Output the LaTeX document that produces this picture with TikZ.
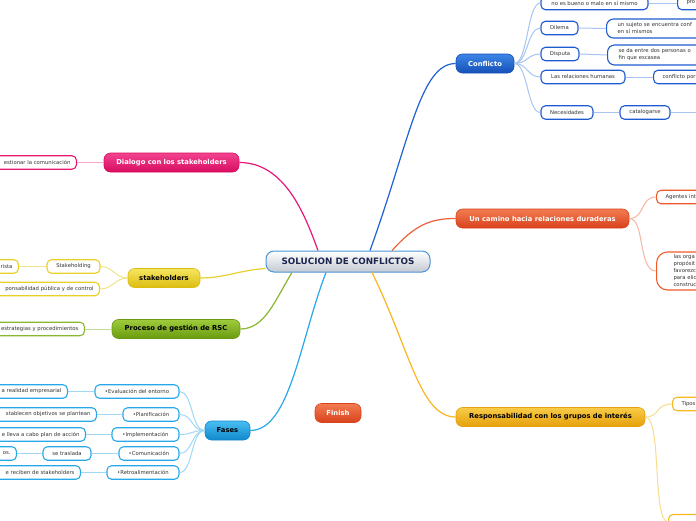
\documentclass[tikz,border=0pt]{standalone}
\usepackage{fontspec}
\setmainfont{DejaVu Sans}
\usetikzlibrary{calc}
\definecolor{blueA}{HTML}{3C86E6}\definecolor{blueB}{HTML}{1550B8}\definecolor{blueSub}{HTML}{1E5BD0}\definecolor{blueConn}{HTML}{A8C4F0}\definecolor{blueMain}{HTML}{1E62D4}
\definecolor{orA}{HTML}{F27C52}\definecolor{orB}{HTML}{D8421C}\definecolor{orSub}{HTML}{F05A28}\definecolor{orConn}{HTML}{F8B4A0}\definecolor{orMain}{HTML}{F06038}
\definecolor{yoA}{HTML}{F8CC48}\definecolor{yoB}{HTML}{E6A00A}\definecolor{yoSub}{HTML}{F8B820}\definecolor{yoConn}{HTML}{F8DC90}\definecolor{yoMain}{HTML}{F8B820}
\definecolor{cyA}{HTML}{48BEF2}\definecolor{cyB}{HTML}{1088CC}\definecolor{cySub}{HTML}{28A8E8}\definecolor{cyConn}{HTML}{A0D8F4}\definecolor{cyMain}{HTML}{28A8E8}
\definecolor{pkA}{HTML}{F24490}\definecolor{pkB}{HTML}{D80C60}\definecolor{pkSub}{HTML}{E81870}\definecolor{pkConn}{HTML}{F8A8CC}\definecolor{pkMain}{HTML}{E8187A}
\definecolor{ylA}{HTML}{F6E660}\definecolor{ylB}{HTML}{DCBC10}\definecolor{ylSub}{HTML}{E8D028}\definecolor{ylConn}{HTML}{F0E488}\definecolor{ylMain}{HTML}{E8D030}
\definecolor{grA}{HTML}{9ECC3C}\definecolor{grB}{HTML}{6A9A10}\definecolor{grSub}{HTML}{88B830}\definecolor{grConn}{HTML}{C4DC98}\definecolor{grMain}{HTML}{88B830}
\definecolor{cenB}{HTML}{4C94D8}\definecolor{cenT}{HTML}{1B2550}\definecolor{cenG}{HTML}{C4CAD2}
\definecolor{subT}{HTML}{333333}
\tikzset{
  mainnode/.style={rounded corners=6.5pt, minimum height=19pt, inner xsep=4pt, inner ysep=0pt,
    font=\fontsize{6.8}{7.8}\selectfont\bfseries, line width=0.6pt},
  subnode/.style={draw, fill=white, rounded corners=4.5pt, line width=1.1pt, minimum height=13.5pt,
    inner xsep=6pt, inner ysep=1pt, font=\fontsize{5.3}{7}\selectfont, text=subT},
  mainconn/.style={line width=1.2pt},
  subconn/.style={line width=1pt},
}
\begin{document}
\begin{tikzpicture}[x=1pt,y=-1pt]
\useasboundingbox (0,0) rectangle (696,520);
\clip (0,0) rectangle (696,520);
\fill[white] (0,0) rectangle (696,520);

% ---------- central ----------
\node[mainnode, minimum width=164pt, minimum height=21pt, rounded corners=8pt, top color=white, bottom color=cenG, draw=cenB, line width=1pt, text=cenT, font=\fontsize{8.8}{9.8}\selectfont\bfseries] (c) at (348,261.5) {SOLUCION DE CONFLICTOS};

% ---------- main topics ----------
\node[mainnode, minimum width=58pt, top color=blueA, bottom color=blueB, draw=blueB, text=white] (cf) at (485,63.5) {Conflicto};
\node[mainnode, minimum width=173pt, top color=orA, bottom color=orB, draw=orB, text=white] (uc) at (542.5,218.5) {Un camino hacia relaciones duraderas};
\node[mainnode, minimum width=189pt, top color=yoA, bottom color=yoB, draw=yoB, text=black] (rg) at (550.5,417) {Responsabilidad con los grupos de interés};
\node[mainnode, minimum width=46pt, top color=orA, bottom color=orB, draw=orB, text=white] (fi) at (338,413) {Finish};
\node[mainnode, minimum width=45pt, top color=cyA, bottom color=cyB, draw=cyB, text=black] (fa) at (227.5,430.5) {Fases};
\node[mainnode, minimum width=135pt, top color=pkA, bottom color=pkB, draw=pkB, text=white] (dl) at (171.5,162.5) {Dialogo con los stakeholders};
\node[mainnode, minimum width=72pt, top color=ylA, bottom color=ylB, draw=ylB, text=black] (st) at (164,278) {stakeholders};
\node[mainnode, minimum width=128pt, top color=grA, bottom color=grB, draw=grB, text=black] (pr) at (176,329) {Proceso de gestión de RSC};

% ---------- main connectors ----------
\draw[mainconn, pkMain] ($(c.north)+(-30,0)$) .. controls (305,215) and (285,162.5) .. (dl.east);
\draw[mainconn, ylMain] ($(c.west)+(0,7)$) .. controls (240,270) and (225,278) .. (st.east);
\draw[mainconn, grMain] ($(c.south)+(-56,0)$) .. controls (275,300) and (265,329) .. (pr.east);
\draw[mainconn, cyMain] ($(c.south)+(-22,0)$) .. controls (300,340) and (290,430.5) .. (fa.east);
\draw[mainconn, blueMain] ($(c.north)+(22,0)$) .. controls (410,140) and (420,63.5) .. (cf.west);
\draw[mainconn, orMain] ($(c.north)+(44,0)$) .. controls (415,225) and (430,218.5) .. (uc.west);
\draw[mainconn, yoMain] ($(c.south)+(24,0)$) .. controls (410,350) and (420,417) .. (rg.west);

% ---------- Conflicto children ----------
\node[subnode, draw=blueSub, minimum width=107pt] (c1) at (594.5,3) {no es bueno o malo en sí mismo};
\node[subnode, draw=blueSub, anchor=west, text width=50pt, align=left, inner xsep=9pt] (c1b) at (677,3) {pro};
\node[subnode, draw=blueSub, minimum width=37pt] (c2) at (559.5,28) {Dilema};
\node[subnode, draw=blueSub, anchor=west, text width=100pt, align=left, inner xsep=11pt, rounded corners=7pt, minimum height=19pt] (c2b) at (606,28.5) {un sujeto se encuentra conf\\en sí mismos};
\node[subnode, draw=blueSub, minimum width=38pt] (c3) at (560,54) {Disputa};
\node[subnode, draw=blueSub, anchor=west, text width=100pt, align=left, inner xsep=11pt, rounded corners=7pt, minimum height=20pt] (c3b) at (607,55) {se da entre dos personas o\\fin que escasea};
\node[subnode, draw=blueSub, minimum width=84pt] (c4) at (583,77) {Las relaciones humanas};
\node[subnode, draw=blueSub, anchor=west, text width=80pt, align=left, inner xsep=9pt] (c4b) at (653,77) {conflicto por};
\node[subnode, draw=blueSub, minimum width=52pt] (c5) at (567,112.5) {Necesidades};
\node[subnode, draw=blueSub, minimum width=50pt] (c5b) at (645,112.5) {catalogarse};
\coordinate (c5e) at (700,112.5);

\foreach \n in {c1,c2,c3,c4,c5}
  \draw[subconn, blueConn] (cf.east) .. controls (528,63.5) and (527,0 |- \n.west) .. (\n.west);
\draw[subconn, blueConn] (c1.east) -- (c1b.west);
\draw[subconn, blueConn] (c2.east) -- (c2b.west);
\draw[subconn, blueConn] (c3.east) -- (c3b.west);
\draw[subconn, blueConn] (c4.east) -- (c4b.west);
\draw[subconn, blueConn] (c5.east) -- (c5b.west);
\draw[subconn, blueConn] (c5b.east) -- (c5e);

% ---------- Un camino children ----------
\node[subnode, draw=orSub, anchor=west, text width=60pt, align=left, inner xsep=9pt] (u1) at (656,197) {Agentes int};
\node[subnode, draw=orSub, anchor=west, text width=60pt, align=left, inner xsep=17pt, rounded corners=11pt, minimum height=38pt] (u2) at (656,271) {las orga\\propósit\\favorezc\\para elic\\construc};
\draw[subconn, orConn] (uc.east) .. controls (645,218.5) and (640,197) .. (u1.west);
\draw[subconn, orConn] (uc.east) .. controls (645,218.5) and (638,271) .. (u2.west);

% ---------- Responsabilidad children ----------
\node[subnode, draw=yoSub, anchor=west, text width=60pt, align=left, inner xsep=9pt] (r1) at (672,404) {Tipos};
\node[subnode, draw=yoSub, anchor=west, text width=60pt, align=left, minimum height=15pt] (r2) at (668,522) {};
\draw[subconn, yoConn] (rg.east) .. controls (660,417) and (655,404) .. (r1.west);
\draw[subconn, yoConn] (rg.east) .. controls (662,417) and (652,521) .. (r2.west);

% ---------- Fases children ----------
\node[subnode, draw=cySub, minimum width=84pt] (f1) at (137,391.5) {•Evaluación del entorno};
\node[subnode, draw=cySub, anchor=east, text width=90pt, align=right] (f1b) at (68,391.5) {a realidad empresarial};
\node[subnode, draw=cySub, minimum width=56pt] (f2) at (151,414.5) {•Planificación};
\node[subnode, draw=cySub, anchor=east, text width=110pt, align=right] (f2b) at (97,414.5) {stablecen objetivos se plantean};
\node[subnode, draw=cySub, minimum width=67pt] (f3) at (145.5,434.5) {•Implementación};
\node[subnode, draw=cySub, anchor=east, text width=100pt, align=right] (f3b) at (86,434.5) {e lleva a cabo plan de acción};
\node[subnode, draw=cySub, minimum width=60pt] (f4) at (149,453.5) {•Comunicación};
\node[subnode, draw=cySub, minimum width=48pt] (f4b) at (67,453.5) {se traslada};
\node[subnode, draw=cySub, anchor=east, text width=40pt, align=right] (f4c) at (17,453.5) {os.};
\node[subnode, draw=cySub, minimum width=72pt] (f5) at (143,472.5) {•Retroalimentación};
\node[subnode, draw=cySub, anchor=east, text width=100pt, align=right] (f5b) at (81,472.5) {e reciben de stakeholders};
\foreach \n in {f1,f2,f3,f4,f5}
  \draw[subconn, cyConn] (fa.west) .. controls (191,430.5) and (193,0 |- \n.east) .. (\n.east);
\draw[subconn, cyConn] (f1.west) -- (f1b.east);
\draw[subconn, cyConn] (f2.west) -- (f2b.east);
\draw[subconn, cyConn] (f3.west) -- (f3b.east);
\draw[subconn, cyConn] (f4.west) -- (f4b.east);
\draw[subconn, cyConn] (f4b.west) -- (f4c.east);
\draw[subconn, cyConn] (f5.west) -- (f5b.east);

% ---------- Dialogo child ----------
\node[subnode, draw=pkSub, anchor=east, text width=100pt, align=right] (d1) at (77,162.5) {estionar la comunicación};
\draw[subconn, pkConn] (dl.west) -- (d1.east);

% ---------- stakeholders children ----------
\node[subnode, draw=ylSub, minimum width=53pt] (s1) at (73.5,266.5) {Stakeholding};
\node[subnode, draw=ylSub, anchor=east, text width=40pt, align=right] (s1b) at (19,266.5) {rista};
\node[subnode, draw=ylSub, anchor=east, text width=120pt, align=right] (s2) at (100,289) {ponsabilidad pública y de control};
\draw[subconn, ylConn] (st.west) .. controls (115,278) and (113,266.5) .. (s1.east);
\draw[subconn, ylConn] (st.west) .. controls (115,278) and (113,289) .. (s2.east);
\draw[subconn, ylConn] (s1.west) -- (s1b.east);

% ---------- Proceso child ----------
\node[subnode, draw=grSub, anchor=east, text width=100pt, align=right] (p1) at (85,329) {estrategias y procedimientos};
\draw[subconn, grConn] (pr.west) -- (p1.east);
\end{tikzpicture}
\end{document}
